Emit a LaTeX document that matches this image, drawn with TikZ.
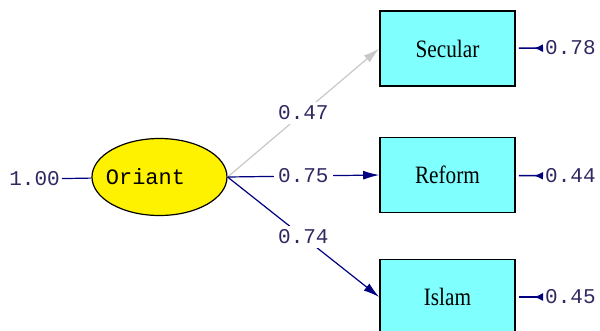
\documentclass[tikz,border=0pt]{standalone}
\usepackage{fontspec}
\setmainfont{Liberation Serif}
\setmonofont{Liberation Mono}
\newfontfamily\boxfont[FakeStretch=0.85]{Liberation Serif}
\usetikzlibrary{shapes.geometric,arrows.meta}
\definecolor{pathblue}{RGB}{0,0,128}
\definecolor{numink}{RGB}{48,40,96}
\definecolor{boxcyan}{RGB}{128,255,255}
\definecolor{pathgray}{RGB}{200,200,200}

\begin{document}
\begin{tikzpicture}[x=1pt,y=-1pt,
	obs/.style={draw=black,line width=1.6pt,fill=boxcyan,minimum width=135pt,minimum height=75pt,font=\boxfont\fontsize{25}{28}\selectfont},
	lat/.style={ellipse,draw=black,line width=1.2pt,fill=yellow,minimum width=135pt,minimum height=77pt,inner sep=0pt,font=\ttfamily\fontsize{22}{24}\selectfont},
	num/.style={text=numink,font=\ttfamily\fontsize{21}{24}\selectfont,inner sep=2pt},
	lbl/.style={num,fill=white,inner sep=4pt},
	load/.style={pathblue,line width=1.2pt,-{Latex[length=16pt,width=9pt]}},
	err/.style={pathblue,line width=1.5pt,{Latex[length=9pt,width=8pt,reversed]}-,shorten >=3pt}]
	\useasboundingbox (0,0) rectangle (600,330);
	% latent and observed variables
	\node[lat] (ori) at (159.5,177) {\makebox[0pt]{Oriant\hspace{28pt}}};
	\node[obs] (sec) at (447.5,48.5) {Secular};
	\node[obs] (ref) at (447.5,175) {Reform};
	\node[obs] (isl) at (447.5,297) {Islam};
	% variances
	\node[num,anchor=east] (one) at (62,179) {1.00};
	\node[num,anchor=west] (esec) at (543,48) {0.78};
	\node[num,anchor=west] (eref) at (543,176) {0.44};
	\node[num,anchor=west] (eisl) at (543,297) {0.45};
	\draw[pathblue,line width=1.2pt] (one) -- (ori);
	% loadings
	\draw[load,pathgray] (ori.east) -- node[lbl] {0.47} (sec.west);
	\draw[load] (ori.east) -- node[lbl] {0.75} (ref.west);
	\draw[load] (ori.east) -- node[lbl] {0.74} (isl.west);
	% errors
	\draw[err] (esec) -- (sec);
	\draw[err] (eref) -- (ref);
	\draw[err] (eisl) -- (isl);
\end{tikzpicture}
\end{document}
